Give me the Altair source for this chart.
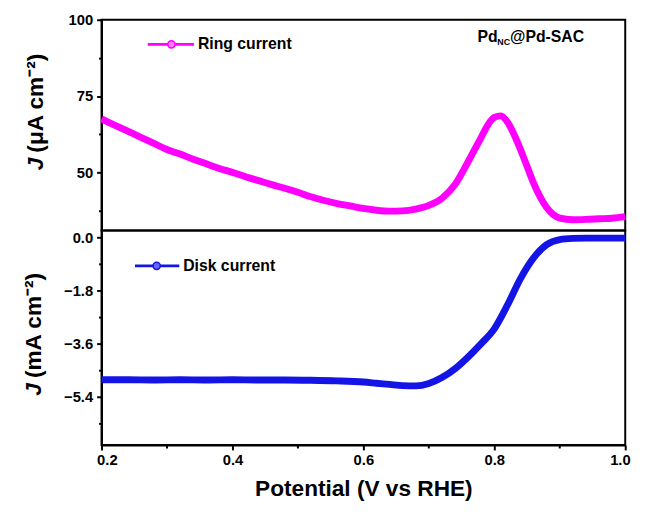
import altair as alt
import pandas as pd

# ---- data ----
potential_ring = [0.20, 0.22, 0.24, 0.26, 0.28, 0.30, 0.32, 0.34, 0.36, 0.38,
                  0.40, 0.42, 0.44, 0.46, 0.48, 0.50, 0.52, 0.54, 0.56, 0.58,
                  0.60, 0.62, 0.64, 0.66, 0.68, 0.70, 0.72, 0.74, 0.76, 0.78,
                  0.79, 0.80, 0.81, 0.82, 0.83, 0.84, 0.85, 0.86, 0.87, 0.88,
                  0.89, 0.90, 0.92, 0.94, 0.96, 0.98, 1.00]
ring_current = [67.5, 65.5, 63.5, 61.5, 59.5, 57.5, 56.0, 54.3, 52.8, 51.3,
                50.0, 48.6, 47.3, 46.0, 44.8, 43.5, 42.0, 40.8, 39.8, 39.0,
                38.2, 37.6, 37.3, 37.4, 38.0, 39.2, 41.5, 46.0, 53.5, 61.5,
                65.5, 68.0, 68.5, 66.5, 62.5, 57.5, 52.0, 46.5, 42.0, 38.5,
                36.2, 35.0, 34.5, 34.6, 34.8, 35.0, 35.5]

potential_disk = [0.20, 0.24, 0.28, 0.32, 0.36, 0.40, 0.44, 0.48, 0.52, 0.56,
                  0.60, 0.62, 0.64, 0.66, 0.68, 0.70, 0.72, 0.74, 0.76, 0.78,
                  0.80, 0.82, 0.84, 0.86, 0.88, 0.90, 0.92, 0.94, 0.96, 0.98, 1.00]
disk_current = [-4.82, -4.82, -4.83, -4.82, -4.83, -4.82, -4.83, -4.83, -4.84, -4.86,
                -4.90, -4.94, -4.98, -5.02, -5.03, -4.95, -4.75, -4.45, -4.05, -3.60,
                -3.10, -2.30, -1.40, -0.70, -0.25, -0.08, -0.04, -0.03, -0.03, -0.03, -0.03]

x_ticks = [0.2, 0.3, 0.4, 0.5, 0.6, 0.7, 0.8, 0.9, 1.0]
ring_ticks = [37.5, 50, 62.5, 75, 87.5, 100]
disk_ticks = [0.0, -0.9, -1.8, -2.7, -3.6, -4.5, -5.4, -6.3]

ring_label = ["Ring current"]
disk_label = ["Disk current"]
sample_name = ["Pd", "NC", "@Pd-SAC"]
ring_title = ["J", "(μA cm⁻²)"]
disk_title = ["J", "(mA cm⁻²)"]

RING = "#ff00ff"
DISK = "#1414e6"
FONT = "Liberation Sans"
W = 532


def txt(df, size, x, y, angle=0, style="normal", align="left"):
    return alt.Chart(df).mark_text(align=align, baseline="middle", font=FONT, fontWeight="bold",
                                   fontStyle=style, fontSize=size, color="black", angle=angle).encode(
        x=alt.value(x), y=alt.value(y), text="t:N")


ring_df = pd.DataFrame({"V": potential_ring, "J": ring_current})
disk_df = pd.DataFrame({"V": potential_disk, "J": disk_current})

x_scale = alt.Scale(domain=[0.2, 1.0], nice=False, zero=False)

# ---------- top panel ----------
ring_line = alt.Chart(ring_df).mark_line(color=RING, strokeWidth=7, interpolate="monotone").encode(
    x=alt.X("V:Q", scale=x_scale, axis=None),
    y=alt.Y("J:Q", scale=alt.Scale(domain=[31, 100], nice=False, zero=False),
            axis=alt.Axis(values=ring_ticks, title=None,
                          labelExpr="datum.value % 25 == 0 ? datum.label : ''",
                          tickSize={"condition": {"test": "datum.value % 25 == 0", "value": 5}, "value": 3})),
)

leg1 = alt.Chart(pd.DataFrame({"t": ring_label}))
ring_leg_rule = leg1.mark_rule(color=RING, strokeWidth=3).encode(
    x=alt.value(47), x2=alt.value(94), y=alt.value(25))
ring_leg_pt = leg1.mark_point(filled=True, color="#ff77ff", stroke=RING, strokeWidth=1.5, size=55, opacity=1).encode(
    x=alt.value(71), y=alt.value(25))
ring_leg_txt = txt(pd.DataFrame({"t": ring_label}), 16, 98, 25)

nm = pd.DataFrame({"t": sample_name})
name_pd = txt(nm.iloc[[0]], 16, 382, 18)
name_nc = txt(nm.iloc[[1]], 9, 402, 23)
name_rest = txt(nm.iloc[[2]], 16, 415, 18)

rt = pd.DataFrame({"t": ring_title})
ring_t1 = txt(rt.iloc[[0]], 23, -66, 153, angle=270, style="italic")
ring_t2 = txt(rt.iloc[[1]], 23, -66, 135, angle=270)

top = alt.layer(ring_line, ring_leg_rule, ring_leg_pt, ring_leg_txt, name_pd, name_nc, name_rest,
                ring_t1, ring_t2).properties(width=W, height=214)

# ---------- bottom panel ----------
disk_line = alt.Chart(disk_df).mark_line(color=DISK, strokeWidth=7, interpolate="monotone").encode(
    x=alt.X("V:Q", scale=x_scale,
            axis=alt.Axis(values=x_ticks, format=".1f", title="Potential (V vs RHE)",
                          labelFlush=True, labelFlushOffset=5,
                          labelExpr="round(datum.value*10) % 2 == 0 ? datum.label : ''",
                          tickSize={"condition": {"test": "round(datum.value*10) % 2 == 0", "value": 5}, "value": 3},
                          labelPadding=3, titlePadding=10)),
    y=alt.Y("J:Q", scale=alt.Scale(domain=[-7.03, 0.23], nice=False, zero=False),
            axis=alt.Axis(values=disk_ticks, format=".1f", title=None,
                          labelExpr="round(datum.value*10) % 18 == 0 ? datum.label : ''",
                          tickSize={"condition": {"test": "round(datum.value*10) % 18 == 0", "value": 5}, "value": 3})),
)

leg2 = alt.Chart(pd.DataFrame({"t": disk_label}))
disk_leg_rule = leg2.mark_rule(color=DISK, strokeWidth=3).encode(
    x=alt.value(34), x2=alt.value(79), y=alt.value(36))
disk_leg_pt = leg2.mark_point(filled=True, color="#6666ff", stroke=DISK, strokeWidth=1.5, size=55, opacity=1).encode(
    x=alt.value(56), y=alt.value(36))
disk_leg_txt = txt(pd.DataFrame({"t": disk_label}), 16, 83, 36)

dt = pd.DataFrame({"t": disk_title})
disk_t1 = txt(dt.iloc[[0]], 23, -68, 168, angle=270, style="italic")
disk_t2 = txt(dt.iloc[[1]], 23, -68, 150, angle=270)

bottom = alt.layer(disk_line, disk_leg_rule, disk_leg_pt, disk_leg_txt, disk_t1, disk_t2).properties(
    width=W, height=218)

chart = alt.vconcat(top, bottom, spacing=0, bounds="flush").properties(
    padding={"left": 15, "top": 0, "right": 0, "bottom": 0}
).configure_view(
    stroke="black", strokeWidth=2
).configure_axis(
    domainColor="black", domainWidth=2, tickColor="black", tickWidth=2,
    labelFont=FONT, labelFontWeight="bold", labelFontSize=15, labelColor="black", labelPadding=4,
    titleFont=FONT, titleFontWeight="bold", titleFontSize=23, titleColor="black",
    grid=False
)

chart.save("out.html", embed_options={"renderer": "svg", "actions": False})
